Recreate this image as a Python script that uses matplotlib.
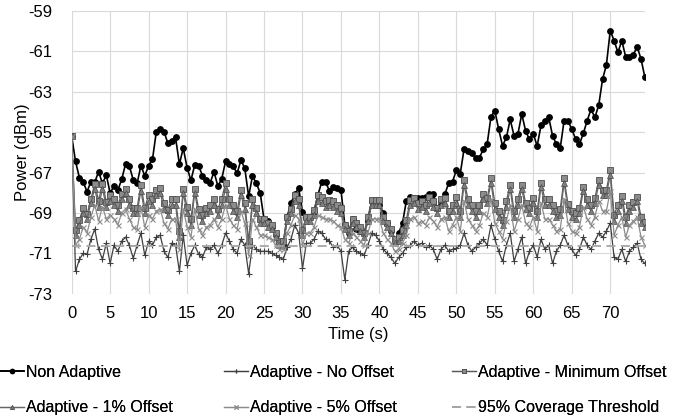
import matplotlib
matplotlib.use("Agg")
import matplotlib.pyplot as plt
import numpy as np

plt.rcParams['font.family'] = ['Liberation Sans', 'DejaVu Sans']

# time axis: 0 .. 74.5 s in 0.5 s steps
time_s = [i * 0.5 for i in range(150)]

non_adaptive = [
    -65.2, -66.45, -67.25, -67.47, -67.95, -67.45, -67.47, -66.96, -67.54, -67.12,
    -68.03, -67.65, -67.87, -67.34, -66.58, -66.68, -67.37, -67.54, -66.66, -67.16,
    -66.66, -66.35, -64.98, -64.86, -64.98, -65.55, -65.46, -65.26, -66.59, -65.79,
    -66.76, -67.39, -66.61, -66.66, -67.16, -67.37, -67.50, -66.97, -67.67, -67.32,
    -66.45, -66.58, -66.68, -67.04, -66.38, -66.79, -68.18, -67.17, -67.54, -68.00,
    -69.32, -69.38, -69.68, -70.09, -70.59, -70.59, -69.19, -68.53, -68.06, -67.78,
    -68.94, -69.19, -69.19, -68.94, -68.11, -67.47, -67.47, -67.90, -67.70, -67.77,
    -67.87, -69.6, -70.0, -69.3, -69.8, -69.9, -70.0, -69.4, -68.4, -68.4,
    -68.6, -69.0, -69.5, -69.9, -70.5, -70.0, -69.5, -68.4, -68.2, -68.25,
    -68.28, -68.28, -68.2, -68.07, -68.07, -68.78, -68.4, -68.07, -67.53, -67.45,
    -66.88, -67.07, -65.83, -65.93, -66.05, -66.26, -66.26, -65.85, -65.59, -64.23,
    -63.94, -64.86, -65.67, -65.26, -64.37, -65.19, -65.09, -64.10, -64.94, -65.36,
    -65.08, -65.69, -64.66, -64.45, -64.25, -65.18, -65.59, -65.79, -64.43, -64.43,
    -64.86, -65.34, -65.59, -65.06, -64.43, -63.87, -64.27, -63.67, -62.38, -61.67,
    -59.97, -60.47, -61.05, -60.47, -61.26, -61.26, -61.16, -60.77, -61.38, -62.28,
]

adaptive_no_offset = [
    -65.2, -71.9, -71.3, -71.0, -71.05, -70.3, -69.8, -70.8, -71.3, -70.5,
    -71.5, -70.6, -70.9, -70.4, -70.2, -70.6, -71.25, -70.6, -70.0, -71.1,
    -70.4, -70.6, -70.2, -70.1, -70.9, -71.2, -70.5, -70.6, -71.9, -70.1,
    -71.6, -71.0, -70.6, -71.05, -71.2, -70.7, -70.8, -70.6, -71.0, -70.6,
    -70.0, -70.4, -70.8, -71.0, -70.3, -70.6, -72.0, -70.6, -70.8, -70.9,
    -70.9, -70.9, -71.0, -71.1, -71.2, -71.3, -70.7, -70.3, -69.6, -70.0,
    -71.75, -70.5, -70.5, -70.3, -69.9, -70.0, -70.3, -70.4, -70.7, -70.6,
    -70.9, -72.3, -70.9, -70.7, -70.9, -71.0, -71.1, -70.6, -70.0, -70.1,
    -70.4, -70.8, -71.0, -71.2, -71.5, -71.2, -71.0, -70.7, -70.6, -70.4,
    -70.6, -70.5, -70.7, -70.6, -70.8, -71.3, -70.8, -70.6, -70.9, -70.8,
    -70.75, -70.6, -70.0, -70.6, -70.9, -70.7, -70.5, -70.3, -70.6, -69.6,
    -70.3, -70.9, -71.4, -70.6, -70.0, -71.4, -70.8, -70.2, -71.5, -70.9,
    -70.6, -71.2, -70.3, -70.8, -70.6, -71.5, -70.9, -70.6, -70.1, -70.6,
    -70.8, -71.1, -70.8, -70.2, -70.6, -70.8, -70.4, -70.0, -70.2, -69.9,
    -69.5, -71.2, -71.3, -70.8, -71.4, -70.9, -70.7, -70.5, -71.3, -71.5,
]

adaptive_min_offset = [
    -65.2, -69.85, -69.35, -68.77, -69.07, -68.3, -67.55, -68.4, -67.55, -68.45,
    -68.1, -68.3, -68.6, -68.07, -67.8, -68.3, -68.77, -68.77, -67.6, -68.77,
    -68.1, -68.3, -67.87, -67.75, -68.5, -68.85, -68.3, -68.3, -69.9, -67.8,
    -68.7, -69.3, -67.8, -68.8, -69.1, -68.77, -68.6, -68.3, -68.8, -68.3,
    -67.52, -68.3, -68.6, -68.9, -67.87, -68.5, -70.4, -68.3, -68.77, -69.3,
    -69.3, -69.5, -69.6, -70.0, -70.4, -70.4, -69.2, -68.8, -68.1, -68.3,
    -69.85, -69.2, -69.2, -68.85, -68.1, -68.2, -68.4, -68.36, -68.4, -68.6,
    -68.77, -69.6, -69.9, -69.32, -69.5, -69.7, -70.0, -69.2, -68.36, -68.36,
    -68.36, -69.2, -69.5, -69.8, -70.3, -70.2, -69.85, -69.35, -68.36, -68.25,
    -68.5, -68.4, -68.6, -68.23, -68.4, -68.77, -68.3, -68.28, -68.9, -68.6,
    -68.23, -68.9, -67.37, -68.3, -68.6, -68.9, -68.6, -68.07, -68.28, -67.29,
    -68.5, -68.9, -69.35, -68.4, -67.6, -68.9, -68.3, -67.6, -68.5, -68.76,
    -68.28, -68.9, -67.5, -68.3, -68.3, -68.6, -68.9, -68.8, -67.29, -68.55,
    -68.9, -69.0, -68.77, -67.7, -68.3, -68.6, -68.28, -67.37, -67.87, -67.87,
    -66.88, -69.1, -68.6, -68.17, -69.2, -68.6, -68.45, -68.2, -69.2, -69.45,
]

adaptive_1pct_offset = [
    -65.2, -70.1, -69.6, -69.0, -69.3, -68.5, -67.8, -68.7, -67.8, -68.7,
    -68.4, -68.6, -68.9, -68.3, -68.0, -68.6, -69.0, -69.0, -67.9, -69.0,
    -68.4, -68.6, -68.1, -68.0, -68.8, -69.1, -68.6, -68.6, -70.2, -68.0,
    -69.0, -69.6, -68.0, -69.1, -69.4, -69.0, -68.9, -68.6, -69.1, -68.6,
    -67.8, -68.6, -68.9, -69.2, -68.1, -68.8, -70.6, -68.6, -69.0, -69.5,
    -69.5, -69.7, -69.8, -70.2, -70.6, -70.6, -69.4, -69.0, -68.4, -68.6,
    -70.1, -69.4, -69.4, -69.1, -68.4, -68.5, -68.7, -68.6, -68.7, -68.9,
    -69.0, -69.8, -70.1, -69.5, -69.7, -69.9, -70.2, -69.4, -68.6, -68.6,
    -68.6, -69.4, -69.7, -70.0, -70.5, -70.4, -70.1, -69.6, -68.6, -68.5,
    -68.8, -68.7, -68.9, -68.5, -68.7, -69.0, -68.6, -68.5, -69.2, -68.9,
    -68.5, -69.2, -67.6, -68.6, -68.9, -69.2, -68.9, -68.3, -68.5, -67.5,
    -68.8, -69.2, -69.6, -68.7, -67.8, -69.2, -68.6, -67.8, -68.8, -69.0,
    -68.5, -69.2, -67.7, -68.6, -68.6, -68.9, -69.2, -69.1, -67.5, -68.8,
    -69.2, -69.3, -69.0, -67.9, -68.6, -68.9, -68.5, -67.6, -68.1, -68.1,
    -67.1, -69.4, -68.9, -68.4, -69.5, -68.9, -68.7, -68.4, -69.5, -69.7,
]

adaptive_5pct_offset = [
    -65.2, -70.6, -70.3, -69.7, -70.0, -69.2, -68.6, -69.4, -68.7, -69.3,
    -69.1, -69.3, -69.6, -69.0, -68.8, -69.3, -69.7, -69.8, -68.7, -69.7,
    -69.1, -69.3, -68.9, -68.8, -69.5, -69.8, -69.3, -69.3, -70.8, -68.8,
    -69.7, -70.2, -68.8, -69.8, -70.1, -69.7, -69.6, -69.3, -69.7, -69.3,
    -68.6, -69.3, -69.6, -69.8, -68.9, -69.5, -71.1, -69.3, -69.7, -70.1,
    -70.1, -70.2, -70.3, -70.6, -70.8, -70.8, -70.0, -69.6, -69.1, -69.3,
    -70.6, -70.0, -70.0, -69.7, -69.1, -69.2, -69.3, -69.3, -69.4, -69.6,
    -69.7, -70.3, -70.5, -70.0, -70.2, -70.4, -70.6, -70.0, -69.3, -69.3,
    -69.3, -70.0, -70.3, -70.5, -70.9, -70.8, -70.5, -70.1, -69.3, -69.2,
    -69.5, -69.4, -69.6, -69.2, -69.4, -69.7, -69.3, -69.2, -69.9, -69.6,
    -69.2, -69.9, -68.4, -69.3, -69.6, -69.9, -69.6, -69.0, -69.2, -68.3,
    -69.5, -69.9, -70.3, -69.4, -68.6, -69.9, -69.3, -68.6, -69.5, -69.7,
    -69.2, -69.9, -68.5, -69.3, -69.3, -69.6, -69.9, -69.8, -68.3, -69.5,
    -69.9, -70.0, -69.7, -68.7, -69.3, -69.6, -69.2, -68.4, -68.9, -68.9,
    -67.9, -70.1, -69.6, -69.2, -70.2, -69.6, -69.4, -69.2, -70.2, -70.6,
]

threshold_value = -70.62
coverage_threshold = [threshold_value] * len(time_s)

y_ticks = [-73, -71, -69, -67, -65, -63, -61, -59]
x_ticks = [0, 5, 10, 15, 20, 25, 30, 35, 40, 45, 50, 55, 60, 65, 70]

fig = plt.figure(figsize=(6.84, 4.2), dpi=100)
ax = fig.add_axes([0.1048, 0.3007, 0.838, 0.6731])

l_na, = ax.plot(time_s, non_adaptive, color='#000000', lw=1.2, marker='o',
                markersize=3.9, markerfacecolor='#000000', markeredgecolor='#000000',
                label='Non Adaptive', zorder=3)
l_no, = ax.plot(time_s, adaptive_no_offset, color='#404040', lw=0.9, marker='+',
                markersize=4.8, markeredgewidth=0.8, label='Adaptive - No Offset', zorder=4)
l_min, = ax.plot(time_s, adaptive_min_offset, color='#595959', lw=0.9, marker='s',
                 markersize=3.8, markerfacecolor='#8c8c8c', markeredgecolor='#4d4d4d',
                 markeredgewidth=0.6, label='Adaptive - Minimum Offset', zorder=5)
l_1, = ax.plot(time_s, adaptive_1pct_offset, color='#666666', lw=0.9, marker='^',
               markersize=3.8, markerfacecolor='#7f7f7f', markeredgecolor='#4d4d4d',
               markeredgewidth=0.5, label='Adaptive - 1% Offset', zorder=6)
l_5, = ax.plot(time_s, adaptive_5pct_offset, color='#8c8c8c', lw=0.9, marker='x',
               markersize=3.6, markeredgewidth=0.8, label='Adaptive - 5% Offset', zorder=7)
l_th, = ax.plot(time_s, coverage_threshold, color='#a6a6a6', lw=1.3,
                linestyle=(0, (5, 3)), label='95% Coverage Threshold', zorder=8)

ax.set_xlim(0, 74.5)
ax.set_ylim(-73, -59)
ax.set_xticks(x_ticks)
ax.set_yticks(y_ticks)
ax.set_yticklabels([str(v) for v in y_ticks])
ax.grid(True, color='#d9d9d9', lw=0.8)
ax.set_axisbelow(True)
for s in ax.spines.values():
    s.set_visible(False)
ax.tick_params(axis='x', length=0, labelsize=12, colors='#000000', pad=9)
ax.tick_params(axis='y', length=0, labelsize=12, colors='#000000', pad=14)
ax.set_xlabel('Time (s)', fontsize=12, labelpad=4)
ax.set_ylabel('Power (dBm)', fontsize=12, labelpad=-1.5)

columns = [([l_na, l_1], 0.0), ([l_no, l_5], 224 / 684), ([l_min, l_th], 452 / 684)]
for hs, x0 in columns:
    leg = fig.legend(handles=hs, labels=[h.get_label() for h in hs],
                     loc='upper left', bbox_to_anchor=(x0, 0.132),
                     frameon=False, fontsize=11.5, handlelength=1.5, handletextpad=0.15,
                     labelspacing=1.3, markerscale=0.75, borderpad=0.0,
                     borderaxespad=0.0)
    fig.add_artist(leg)

fig.savefig('out.png', dpi=100)
